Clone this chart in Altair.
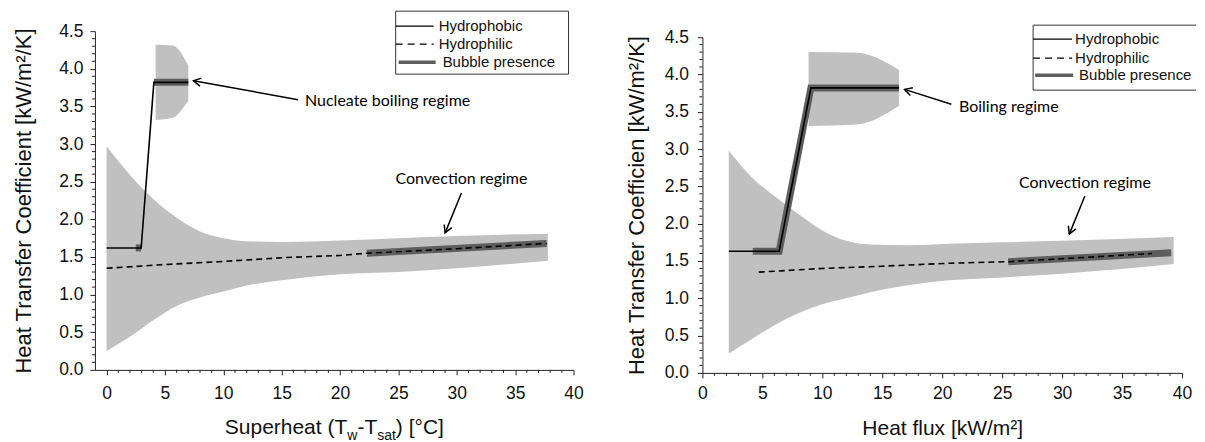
import math
import altair as alt
import pandas as pd

# ---------------- data ----------------
Y_TICKS = [0.0, 0.5, 1.0, 1.5, 2.0, 2.5, 3.0, 3.5, 4.0, 4.5]
X_TICKS = [0, 5, 10, 15, 20, 25, 30, 35, 40]
Y_MINOR = [round(i * 0.1, 1) for i in range(46) if i % 5]
X_MINOR = [i for i in range(1, 40) if i % 5]

# left panel: superheat
L_HB_X = [0, 2.96, 4.05, 7.0]
L_HB_Y = [1.62, 1.62, 3.82, 3.82]
L_HL_X = [0, 5, 10, 15, 20, 22.3, 30, 37.7]
L_HL_Y = [1.35, 1.40, 1.44, 1.49, 1.52, 1.55, 1.61, 1.68]
L_BUB1_X = [2.5, 2.96]
L_BUB1_Y = [1.62, 1.62]
L_BUB2_X = [4.05, 7.0]
L_BUB2_Y = [3.82, 3.82]
L_BUB3_X = [22.3, 37.7]
L_BUB3_Y = [1.55, 1.68]
L_CB_X = [0, 2, 4, 6, 8, 10, 12, 15, 20, 25, 30, 37.8]
L_CB_HI = [2.97, 2.59, 2.27, 2.02, 1.84, 1.75, 1.71, 1.70, 1.72, 1.75, 1.78, 1.81]
L_CB_LO = [0.25, 0.44, 0.66, 0.85, 0.96, 1.04, 1.12, 1.19, 1.27, 1.30, 1.35, 1.45]
L_BB_X = [4.2, 5.65, 7.0]
L_BB_HI = [4.32, 4.31, 4.04]
L_BB_LO = [3.32, 3.35, 3.58]

# right panel: heat flux
R_HB_X = [2.2, 6.4, 9.05, 16.4]
R_HB_Y = [1.63, 1.63, 3.82, 3.82]
R_HL_X = [4.7, 10, 15, 20.6, 25.5, 30, 37.5]
R_HL_Y = [1.35, 1.40, 1.43, 1.47, 1.49, 1.53, 1.60]
R_BUB1_X = [4.2, 6.4, 9.05, 16.4]
R_BUB1_Y = [1.63, 1.63, 3.82, 3.82]
R_BUB2_X = [25.5, 39.1]
R_BUB2_Y = [1.49, 1.61]
R_CB_X = [2.2, 4, 6, 8, 10, 12, 14, 17, 20.6, 25, 30, 39.3]
R_CB_HI = [2.98, 2.64, 2.37, 2.13, 1.91, 1.77, 1.72, 1.71, 1.73, 1.75, 1.77, 1.82]
R_CB_LO = [0.26, 0.44, 0.64, 0.80, 0.92, 1.00, 1.08, 1.17, 1.24, 1.28, 1.33, 1.46]
R_BB_X = [8.85, 12.9, 16.4]
R_BB_HI = [4.30, 4.29, 4.06]
R_BB_LO = [3.31, 3.33, 3.58]

# annotations (data units): text, text x, text y, align, arrow tail, arrow head
L_NOTES = [("Nucleate boiling regime", 17.0, 3.57, "left", (16.4, 3.59), (7.44, 3.84)),
           ("Convection regime", 30.4, 2.54, "center", (30.4, 2.35), (29.0, 1.82))]
R_NOTES = [("Boiling regime", 21.4, 3.57, "left", (20.76, 3.60), (16.86, 3.80)),
           ("Convection regime", 31.9, 2.54, "center", (31.9, 2.37), (30.6, 1.86))]

LEGEND_LABELS = ["Hydrophobic", "Hydrophilic", "Bubble presence"]

# ---------------- style ----------------
AXIS_FONT = "Liberation Sans"
NOTE_FONT = "Lato"
BAND = "#c0c0c0"
BUBBLE = "#5e5e5e"
INK = "#111111"
CHEVRON = "M -1 -0.55 L 0 0 L -1 0.55"
ONE = pd.DataFrame({"a": [0]})


def xy(xs, ys):
    return pd.DataFrame({"x": xs, "y": ys})


def band(xs, hi, lo):
    return pd.DataFrame({"x": xs, "hi": hi, "lo": lo})


def panel(W, H, xdom, xtitle, ytitle, ytitle_x, lab_pad_x, lab_pad_y,
          hb, hl, bubbles, bands, notes, legend):
    xs = alt.Scale(domain=xdom, nice=False, zero=False)
    ys = alt.Scale(domain=[0, 4.5], nice=False, zero=False)
    xaxis = alt.Axis(values=X_TICKS, format="d", tickSize=5, tickColor="#222",
                     domainColor="#222", grid=False, labelFont=AXIS_FONT,
                     labelFontSize=17.5, labelColor=INK, labelPadding=lab_pad_x,
                     labelFlush=False, labelOverlap=False,
                     title=xtitle, titleFont=AXIS_FONT, titleFontSize=21,
                     titleFontWeight="normal", titleColor=INK,
                     titleY=62, titleBaseline="alphabetic")
    yaxis = alt.Axis(values=Y_TICKS, format=".1f", tickSize=5, tickColor="#222",
                     domainColor="#222", grid=False, labelFont=AXIS_FONT,
                     labelFontSize=17.5, labelColor=INK, labelPadding=lab_pad_y,
                     labelFlush=False, labelOverlap=False,
                     title=ytitle, titleFont=AXIS_FONT, titleFontSize=22,
                     titleFontWeight="normal", titleColor=INK, titleX=ytitle_x,
                     titleAngle=270, titleAlign="center", titleBaseline="alphabetic")

    def X(f):
        return alt.X(f"{f}:Q", scale=xs, axis=xaxis)

    def Y(f):
        return alt.Y(f"{f}:Q", scale=ys, axis=yaxis)

    layers = []
    for bx, bhi, blo in bands:
        layers.append(alt.Chart(band(bx, bhi, blo)).mark_area(
            color=BAND, opacity=1, interpolate="monotone").encode(
            x=X("x"), y=Y("hi"), y2=alt.Y2("lo")))
    for bx, by in bubbles:
        layers.append(alt.Chart(xy(bx, by)).mark_line(
            color=BUBBLE, strokeWidth=7, strokeCap="butt").encode(x=X("x"), y=Y("y")))
    layers.append(alt.Chart(xy(*hb)).mark_line(color="black", strokeWidth=1.6).encode(
        x=X("x"), y=Y("y")))
    layers.append(alt.Chart(xy(*hl)).mark_line(color="black", strokeWidth=1.6,
                                                strokeDash=[6, 4]).encode(
        x=X("x"), y=Y("y")))
    # minor ticks
    layers.append(alt.Chart(pd.DataFrame({"v": Y_MINOR})).mark_rule(
        color="#222", strokeWidth=1).encode(y=Y("v"), x=alt.value(-3), x2=alt.value(0)))
    layers.append(alt.Chart(pd.DataFrame({"v": X_MINOR})).mark_rule(
        color="#222", strokeWidth=1).encode(x=X("v"), y=alt.value(H), y2=alt.value(H + 3)))

    # annotations
    sx = W / (xdom[1] - xdom[0])
    sy = H / 4.5
    for text, tx, ty, align, tail, head in notes:
        layers.append(alt.Chart(xy([tx], [ty])).mark_text(
            text=text, align=align, baseline="middle", font=NOTE_FONT, fontSize=16,
            color="black").encode(x=X("x"), y=Y("y")))
        layers.append(alt.Chart(xy([tail[0], head[0]], [tail[1], head[1]])).mark_line(
            color="black", strokeWidth=1.5).encode(x=X("x"), y=Y("y")))
        ang = math.degrees(math.atan2(-(head[1] - tail[1]) * sy,
                                      (head[0] - tail[0]) * sx)) % 360
        layers.append(alt.Chart(xy([head[0]], [head[1]])).mark_point(
            shape=CHEVRON, filled=False, size=220, strokeWidth=1.5, color="black",
            opacity=1, angle=ang).encode(x=X("x"), y=Y("y")))

    # legend (drawn in pixels)
    lg = legend
    for (x1, x2, y1, y2) in lg["box"]:
        layers.append(alt.Chart(ONE).mark_rule(color="#333", strokeWidth=1).encode(
            x=alt.value(x1), x2=alt.value(x2), y=alt.value(y1), y2=alt.value(y2)))
    rows = lg["rows"]
    styles = [dict(color="black", strokeWidth=1.3),
              dict(color="black", strokeWidth=1.3, strokeDash=[7, 5]),
              dict(color=BUBBLE, strokeWidth=3.5)]
    for (lx1, lx2, ly, txx), label, st in zip(rows, LEGEND_LABELS, styles):
        layers.append(alt.Chart(ONE).mark_rule(**st).encode(
            x=alt.value(lx1), x2=alt.value(lx2), y=alt.value(ly)))
        layers.append(alt.Chart(ONE).mark_text(
            text=label, align="left", baseline="middle", font=AXIS_FONT,
            fontSize=15, color=INK).encode(x=alt.value(txx), y=alt.value(ly)))
    return alt.layer(*layers).properties(width=W, height=H)


LW, LH = 479, 339
RW, RH = 480, 336

left_legend = {
    "box": [(301, 474, -20, -20), (301, 474, 43, 43), (301, 301, -20, 43), (474, 474, -20, 43)],
    "rows": [(301, 339, -5, 344), (301, 339, 13, 344), (304, 341, 31, 348)],
}
right_legend = {
    "box": [(331, 494, -12, -12), (331, 494, 53, 53), (331, 331, -12, 53)],
    "rows": [(331, 370, 2, 373), (331, 370, 21, 373), (333, 371, 38, 377)],
}

left = panel(LW, LH, [-1, 40], "", "Heat Transfer Coefficient [kW/m²/K]", -64, 10, 7,
             (L_HB_X, L_HB_Y), (L_HL_X, L_HL_Y),
             [(L_BUB1_X, L_BUB1_Y), (L_BUB2_X, L_BUB2_Y), (L_BUB3_X, L_BUB3_Y)],
             [(L_CB_X, L_CB_HI, L_CB_LO), (L_BB_X, L_BB_HI, L_BB_LO)],
             L_NOTES, left_legend)

# x title of the left panel with subscripts
XT_BASE = LH + 64
pieces = [("Superheat (T", 130, 21, 0), ("w", 252.6, 14, 6), ("-T", 262.7, 21, 0),
          ("sat", 282.5, 14, 6), (") [°C]", 301.2, 21, 0)]
title_layers = [alt.Chart(ONE).mark_text(text=t, align="left", baseline="alphabetic",
                                         font=AXIS_FONT, fontSize=fs, color=INK).encode(
    x=alt.value(px), y=alt.value(XT_BASE + dy)) for t, px, fs, dy in pieces]
left = alt.layer(left, *title_layers)

right = panel(RW, RH, [0, 40], "Heat flux [kW/m²]", "Heat Transfer Coefficien [kW/m²/K]", -59, 7, 9,
              (R_HB_X, R_HB_Y), (R_HL_X, R_HL_Y),
              [(R_BUB1_X, R_BUB1_Y), (R_BUB2_X, R_BUB2_Y)],
              [(R_CB_X, R_CB_HI, R_CB_LO), (R_BB_X, R_BB_HI, R_BB_LO)],
              R_NOTES, right_legend)

spacer = alt.Chart(ONE).mark_point(opacity=0).encode(
    x=alt.value(1), y=alt.value(1)).properties(width=RW, height=6)
right_col = alt.vconcat(spacer, right, spacing=0, bounds="flush")

chart = alt.hconcat(left, right_col, spacing=129, bounds="flush").properties(
    padding={"left": 4, "top": 2, "right": 0, "bottom": 0}
).configure_view(strokeWidth=0)

chart.save("out.html", embed_options={"renderer": "svg", "actions": False})
